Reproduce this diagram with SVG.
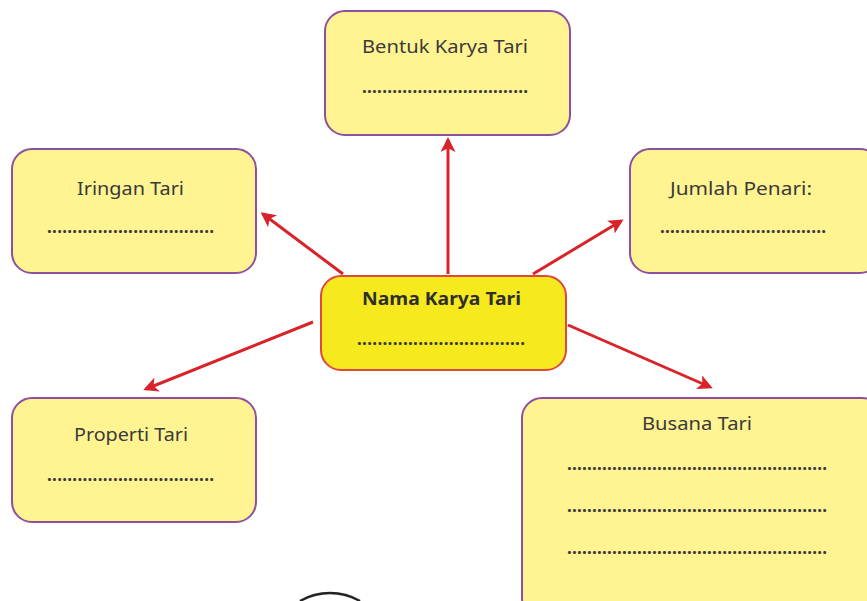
<svg xmlns="http://www.w3.org/2000/svg" width="867" height="601" viewBox="0 0 867 601">
  <style>
    .box { fill: #fff491; stroke: #8e4f9e; stroke-width: 2; }
    .main { fill: #f6ea1e; stroke: #e0483a; stroke-width: 2; }
    .label { font-family: "Noto Sans", "DejaVu Sans", sans-serif; font-size: 18px; fill: #3a3a3a; text-anchor: middle; }
    .title { font-weight: bold; fill: #2e2e2e; }
    .dots { font-family: "Noto Sans", "DejaVu Sans", sans-serif; font-size: 17px; font-weight: bold; fill: #3a3a3a; }
    .link { stroke: #d8232a; stroke-width: 3; fill: none; marker-end: url(#head); }
  </style>
  <defs>
    <marker id="head" viewBox="0 0 10 10" refX="8" refY="5" markerWidth="5" markerHeight="5" orient="auto" markerUnits="strokeWidth">
      <path d="M0,0 L10,5 L0,10 L2.5,5 Z" fill="#d8232a"/>
    </marker>
  </defs>
  <rect width="867" height="601" fill="#ffffff"/>

  <!-- connectors from the central node -->
  <g id="connectors">
    <line class="link" x1="448" y1="274" x2="448" y2="140"/>
    <line class="link" x1="343" y1="274" x2="263" y2="214"/>
    <line class="link" x1="533" y1="274" x2="621" y2="221"/>
    <line class="link" x1="313" y1="322" x2="146" y2="389"/>
    <line class="link" x1="568" y1="325" x2="710" y2="387"/>
  </g>

  <g id="bentuk">
    <rect class="box" x="325" y="11" width="245" height="124" rx="20"/>
    <text class="label" x="445" y="53" textLength="166" lengthAdjust="spacingAndGlyphs">Bentuk Karya Tari</text>
    <text class="dots" x="362" y="93" textLength="166" lengthAdjust="spacing">.................................</text>
  </g>

  <g id="iringan">
    <rect class="box" x="12" y="149" width="244" height="124" rx="20"/>
    <text class="label" x="130.5" y="195" textLength="107" lengthAdjust="spacingAndGlyphs">Iringan Tari</text>
    <text class="dots" x="47" y="233" textLength="167" lengthAdjust="spacing">.................................</text>
  </g>

  <g id="jumlah">
    <rect class="box" x="630" y="149" width="250" height="124" rx="20"/>
    <text class="label" x="741" y="195" textLength="142" lengthAdjust="spacingAndGlyphs">Jumlah Penari:</text>
    <text class="dots" x="660" y="233" textLength="166" lengthAdjust="spacing">.................................</text>
  </g>

  <g id="nama">
    <rect class="main" x="321" y="276" width="245" height="94" rx="20"/>
    <text class="label title" x="441.5" y="305" textLength="159" lengthAdjust="spacingAndGlyphs">Nama Karya Tari</text>
    <text class="dots" x="357" y="345" textLength="168" lengthAdjust="spacing">.................................</text>
  </g>

  <g id="properti">
    <rect class="box" x="12" y="398" width="244" height="124" rx="20"/>
    <text class="label" x="131" y="441" textLength="114" lengthAdjust="spacingAndGlyphs">Properti Tari</text>
    <text class="dots" x="47" y="481" textLength="167" lengthAdjust="spacing">.................................</text>
  </g>

  <g id="busana">
    <rect class="box" x="522" y="398" width="360" height="220" rx="20"/>
    <text class="label" x="697" y="430" textLength="110" lengthAdjust="spacingAndGlyphs">Busana Tari</text>
    <text class="dots" x="567" y="470" textLength="260" lengthAdjust="spacing">....................................................</text>
    <text class="dots" x="567" y="512" textLength="260" lengthAdjust="spacing">....................................................</text>
    <text class="dots" x="567" y="554" textLength="260" lengthAdjust="spacing">....................................................</text>
  </g>

  <!-- edge of a circle below the frame -->
  <path d="M300,601 A60,60 0 0 1 360,601" fill="none" stroke="#222222" stroke-width="2.5"/>
</svg>
